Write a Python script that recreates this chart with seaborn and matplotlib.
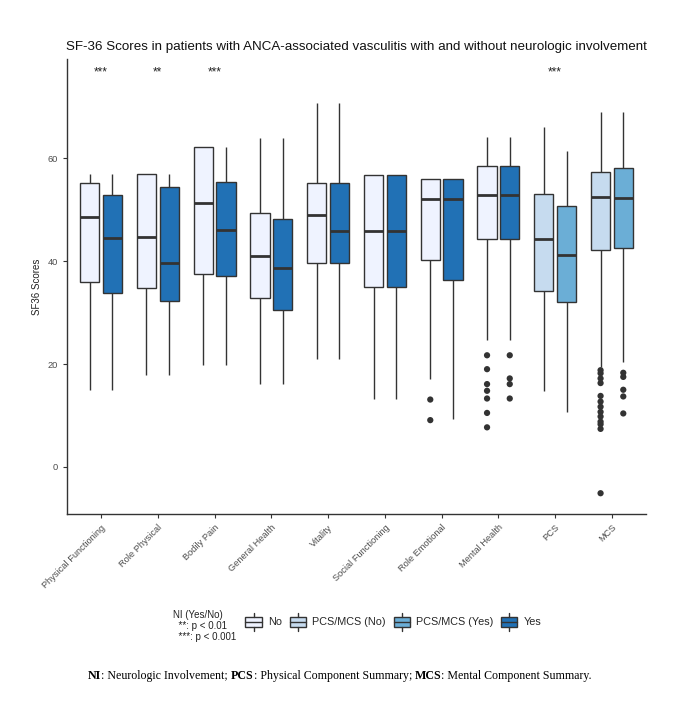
import pandas as pd
import seaborn as sns
import matplotlib.pyplot as plt
from matplotlib.patches import Patch, Rectangle
from matplotlib.lines import Line2D
from matplotlib.legend_handler import HandlerBase

# Valores: [bigote inf, Q1, mediana, Q3, bigote sup]
dominios = ["Physical Functioning", "Role Physical", "Bodily Pain", "General Health",
            "Vitality", "Social Functioning", "Role Emotional", "Mental Health"]
resumenes = ["PCS", "MCS"]
categorias = dominios + resumenes

cajas_no = [[15.0, 36.0, 48.6, 55.1, 57.0],
            [17.8, 34.8, 44.6, 56.9, 56.9],
            [19.9, 37.5, 51.2, 62.2, 62.2],
            [16.2, 32.9, 41.0, 49.3, 63.9],
            [21.0, 39.6, 49.0, 55.2, 70.8],
            [13.2, 35.0, 45.9, 56.8, 56.8],
            [17.0, 40.3, 52.0, 55.9, 55.9],
            [24.7, 44.3, 52.8, 58.5, 64.1]]
cajas_si = [[15.0, 33.8, 44.4, 52.8, 57.0],
            [17.8, 32.3, 39.7, 54.4, 56.9],
            [19.9, 37.1, 46.0, 55.3, 62.2],
            [16.2, 30.5, 38.6, 48.2, 63.9],
            [21.0, 39.6, 45.8, 55.2, 70.8],
            [13.2, 35.0, 45.9, 56.8, 56.8],
            [9.3, 36.3, 52.0, 55.9, 55.9],
            [24.7, 44.3, 52.8, 58.5, 64.1]]
cajas_pcs_mcs_no = [[14.8, 34.2, 44.2, 53.0, 66.0],
                    [19.5, 42.1, 52.5, 57.3, 68.9]]
cajas_pcs_mcs_si = [[10.7, 32.1, 41.2, 50.7, 61.4],
                    [20.3, 42.6, 52.2, 58.0, 68.9]]

# Valores atipicos
atipicos_re_no = [13.1, 9.1]
atipicos_mh_no = [21.7, 19.0, 16.1, 14.8, 13.3, 10.5, 7.7]
atipicos_mh_si = [21.7, 17.2, 16.1, 13.3]
atipicos_mcs_no = [18.8, 18.2, 17.2, 16.3, 13.8, 12.7, 11.7, 10.7, 9.8, 8.8, 8.3, 7.4, -5.1]
atipicos_mcs_si = [18.3, 17.5, 15.0, 13.7, 10.4]

significancia = {"Physical Functioning": "***", "Role Physical": "**",
                 "Bodily Pain": "***", "PCS": "***"}

colores = {"No": "#EFF3FF", "PCS/MCS (No)": "#C6DBEF",
           "PCS/MCS (Yes)": "#6BAED6", "Yes": "#2171B5"}
BORDE = "#333333"


def a_tabla(nombres, cajas, grupo):
    filas = []
    for nombre, valores in zip(nombres, cajas):
        for v in valores:
            filas.append({"medida": nombre, "score": v, "grupo": grupo})
    return filas


class CajaLeyenda(HandlerBase):
    # glifo tipo ggplot: caja con mediana y bigotes
    def create_artists(self, legend, orig_handle, xdescent, ydescent, width, height, fontsize, trans):
        color = orig_handle.get_facecolor()
        y0 = -ydescent
        caja = Rectangle((0, y0 + height * 0.22), width, height * 0.56, facecolor=color,
                         edgecolor=BORDE, linewidth=1.0, transform=trans)
        med = Line2D([0, width], [y0 + height * 0.5] * 2, color=BORDE, linewidth=1.0, transform=trans)
        arriba = Line2D([width / 2] * 2, [y0 + height * 0.78, y0 + height], color=BORDE, linewidth=1.0, transform=trans)
        abajo = Line2D([width / 2] * 2, [y0, y0 + height * 0.22], color=BORDE, linewidth=1.0, transform=trans)
        return [caja, med, arriba, abajo]


df_dom = pd.DataFrame(a_tabla(dominios, cajas_no, "No") + a_tabla(dominios, cajas_si, "Yes"))
df_res = pd.DataFrame(a_tabla(resumenes, cajas_pcs_mcs_no, "PCS/MCS (No)")
                      + a_tabla(resumenes, cajas_pcs_mcs_si, "PCS/MCS (Yes)"))

filas_out = []
for medida, lado, vals in [("Role Emotional", "No", atipicos_re_no),
                           ("Mental Health", "No", atipicos_mh_no),
                           ("Mental Health", "Yes", atipicos_mh_si),
                           ("MCS", "No", atipicos_mcs_no),
                           ("MCS", "Yes", atipicos_mcs_si)]:
    for v in vals:
        filas_out.append({"medida": medida, "score": v, "lado": lado})
df_out = pd.DataFrame(filas_out)

sns.set_theme(style="ticks")
plt.rcParams['font.family'] = ['Liberation Sans', 'DejaVu Sans']

fig = plt.figure(figsize=(6.87, 7.06), dpi=100)
ax = fig.add_axes([0.0975, 0.272, 0.8428, 0.644])

estilo = dict(x="medida", y="score", order=categorias, whis=(0, 100), width=0.8, gap=0.15,
              showfliers=False, linecolor=BORDE, linewidth=1.0, saturation=1,
              medianprops={"linewidth": 2.0}, legend=False, ax=ax)
sns.boxplot(data=df_dom, hue="grupo", hue_order=["No", "Yes"],
            palette=colores, **estilo)
sns.boxplot(data=df_res, hue="grupo", hue_order=["PCS/MCS (No)", "PCS/MCS (Yes)"],
            palette=colores, **estilo)
# sin remates en los bigotes (como ggplot)
for cont in ax.containers:
    for cap in getattr(cont, "caps", []):
        cap.set_visible(False)

sns.stripplot(data=df_out, x="medida", y="score", hue="lado", order=categorias,
              hue_order=["No", "Yes"], palette={"No": BORDE, "Yes": BORDE},
              dodge=True, jitter=False, size=4.5, legend=False, ax=ax)

for medida, estrellas in significancia.items():
    ax.text(categorias.index(medida), 76.7, estrellas, ha="center", va="center",
            fontsize=8.5, color="#222222")

ax.set_xlim(-0.6, len(categorias) - 0.4)
ax.set_ylim(-9.13, 79.2)
ax.set_yticks([0, 20, 40, 60])
ax.set_xlabel("")
ax.set_ylabel("SF36 Scores", fontsize=7, color="#222222", labelpad=4)
ax.set_title("SF-36 Scores in patients with ANCA-associated vasculitis with and without neurologic involvement",
             fontsize=9.6, color="#111111", pad=7)
plt.setp(ax.get_xticklabels(), rotation=45, ha="right", rotation_mode="anchor")
ax.tick_params(axis="both", labelsize=6.7, labelcolor="#4D4D4D", color=BORDE,
               length=3, width=0.8)
for lado in ["top", "right"]:
    ax.spines[lado].set_visible(False)
for lado in ["left", "bottom"]:
    ax.spines[lado].set_color(BORDE)
    ax.spines[lado].set_linewidth(1.0)

# Leyenda inferior
handles = [Patch(facecolor=colores[k], label=k)
           for k in ["No", "PCS/MCS (No)", "PCS/MCS (Yes)", "Yes"]]
fig.legend(handles=handles, loc="center left", bbox_to_anchor=(240 / 687, 1 - 622 / 706),
           ncol=4, frameon=False, fontsize=7.8, handlelength=1.5, handleheight=2.2,
           handletextpad=0.6, columnspacing=0.7, borderpad=0,
           handler_map={Patch: CajaLeyenda()})
fig.text(173 / 687, 1 - 626 / 706, "NI (Yes/No)\n  **: p < 0.01\n  ***: p < 0.001",
         fontsize=7, color="#222222", ha="left", va="center", linespacing=1.1)

# Nota al pie con partes en negrita
piezas = [("NI", "bold"), (": Neurologic Involvement; ", "normal"),
          ("PCS", "bold"), (": Physical Component Summary; ", "normal"),
          ("MCS", "bold"), (": Mental Component Summary.", "normal")]
anterior = None
for texto, peso in piezas:
    kw = dict(fontsize=8.6, fontweight=peso, family="Liberation Serif", color="black",
              va="bottom", ha="left")
    if anterior is None:
        anterior = fig.text(88 / 687, 1 - 682 / 706, texto, **kw)
    else:
        anterior = ax.annotate(texto, xy=(1, 0), xycoords=anterior, **kw)

fig.savefig("out.png", dpi=100)
